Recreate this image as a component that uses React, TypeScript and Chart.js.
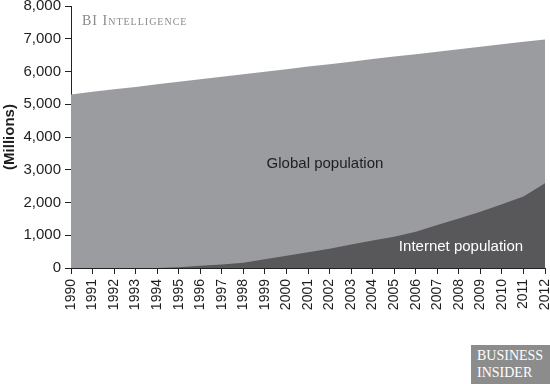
import React, { useEffect, useRef } from "react";
import { Chart, registerables } from "chart.js";

Chart.register(...registerables);

const years = [
  "1990", "1991", "1992", "1993", "1994", "1995", "1996", "1997", "1998", "1999", "2000", "2001",
  "2002", "2003", "2004", "2005", "2006", "2007", "2008", "2009", "2010", "2011", "2012",
];

// Millions
const globalPopulation = [
  5300, 5380, 5455, 5530, 5610, 5690, 5765, 5840, 5915, 5990, 6070, 6150,
  6225, 6300, 6380, 6455, 6530, 6605, 6680, 6755, 6830, 6905, 6980,
];

const internetPopulation = [
  0, 0, 0, 0, 0, 20, 70, 110, 160, 265, 375, 480,
  590, 715, 840, 955, 1110, 1310, 1515, 1720, 1945, 2180, 2590,
];

const yTicks = [0, 1000, 2000, 3000, 4000, 5000, 6000, 7000, 8000];

const labelsPlugin = {
  id: "areaLabels",
  afterDatasetsDraw(chart: any) {
    const ctx = chart.ctx;
    ctx.save();
    ctx.font = "15px 'Liberation Sans', Arial, sans-serif";
    ctx.textAlign = "center";
    ctx.textBaseline = "middle";
    ctx.fillStyle = "#1e1e1e";
    ctx.fillText("Global population", 325, 164);
    ctx.fillStyle = "#ffffff";
    ctx.fillText("Internet population", 461, 247);
    ctx.restore();
  },
};

const zeroPadding = (scale: any) => {
  scale.paddingTop = 0;
  scale.paddingBottom = 0;
  scale.paddingLeft = 0;
  scale.paddingRight = 0;
};

export default function App() {
  const canvasRef = useRef<HTMLCanvasElement>(null);

  useEffect(() => {
    const canvas = canvasRef.current;
    if (!canvas) return;
    const chart = new Chart(canvas, {
      type: "line",
      data: {
        labels: years,
        datasets: [
          {
            label: "Internet population",
            data: internetPopulation,
            backgroundColor: "#58585b",
            borderWidth: 0,
            pointRadius: 0,
            fill: "origin",
            tension: 0,
          },
          {
            label: "Global population",
            data: globalPopulation,
            backgroundColor: "#9b9c9f",
            borderWidth: 0,
            pointRadius: 0,
            fill: "origin",
            tension: 0,
          },
        ],
      },
      options: {
        animation: false,
        responsive: false,
        maintainAspectRatio: false,
        layout: { padding: { top: 6, right: 5, left: 0, bottom: 0 } },
        plugins: {
          legend: { display: false },
          tooltip: { enabled: false },
        },
        scales: {
          x: {
            offset: false,
            grid: { drawOnChartArea: false, drawTicks: true, tickLength: 6, color: "#222" },
            border: { display: true, color: "#222", width: 1 },
            ticks: {
              color: "#1e1e1e",
              font: { family: "'Liberation Sans', Arial, sans-serif", size: 14 },
              minRotation: 90,
              maxRotation: 90,
              autoSkip: false,
              padding: 5,
            },
            afterFit: (scale: any) => {
              scale.height = 116;
              zeroPadding(scale);
            },
          },
          y: {
            min: 0,
            max: 8000,
            afterBuildTicks: (scale: any) => {
              scale.ticks = yTicks.map((v) => ({ value: v }));
            },
            grid: { drawOnChartArea: false, drawTicks: true, tickLength: 6, color: "#222" },
            border: { display: true, color: "#222", width: 1 },
            ticks: {
              color: "#1e1e1e",
              font: { family: "'Liberation Sans', Arial, sans-serif", size: 15 },
              padding: 4,
              callback: (v: any) => Number(v).toLocaleString("en-US"),
            },
            title: {
              display: true,
              text: "(Millions)",
              color: "#1e1e1e",
              font: { family: "'Liberation Sans', Arial, sans-serif", size: 15, weight: "bold" },
              padding: { top: 1, bottom: 0 },
            },
            afterFit: (scale: any) => {
              scale.width = 71;
              zeroPadding(scale);
            },
          },
        },
      },
      plugins: [labelsPlugin],
    });
    return () => chart.destroy();
  }, []);

  return (
    <div style={{ position: "fixed", left: 0, top: 0, width: 550, height: 384, background: "#fff" }}>
      <canvas ref={canvasRef} width={550} height={384} style={{ display: "block" }} />
      <div
        style={{
          position: "absolute",
          left: 82,
          top: 11,
          fontFamily: "'Liberation Serif', 'Times New Roman', serif",
          fontSize: 14,
          lineHeight: "20px",
          letterSpacing: "1px",
          fontVariant: "small-caps",
          color: "#8a8a8a",
          whiteSpace: "nowrap",
        }}
      >
        BI Intelligence
      </div>
      <div
        style={{
          position: "absolute",
          left: 471,
          top: 345,
          width: 79,
          height: 39,
          background: "#8c8c8c",
          color: "#ffffff",
          fontFamily: "'Liberation Serif', 'Times New Roman', serif",
          fontSize: 14,
          lineHeight: "17px",
          paddingLeft: 6,
          paddingTop: 2,
          boxSizing: "border-box",
          whiteSpace: "nowrap",
        }}
      >
        <div>BUSINESS</div>
        <div>INSIDER</div>
      </div>
    </div>
  );
}
